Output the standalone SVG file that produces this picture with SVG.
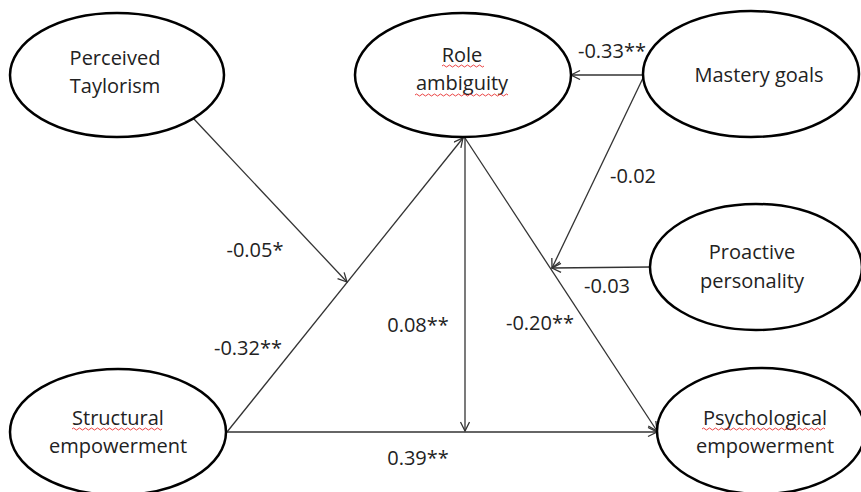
<svg xmlns="http://www.w3.org/2000/svg" width="861" height="492" viewBox="0 0 861 492">
<defs>
<style>
.node ellipse{fill:#fff;stroke:#000;stroke-width:2.5}
.node text,.lbl{font-family:"Open Sans","Liberation Sans",sans-serif;font-size:20px;fill:#222;text-anchor:middle}
.conn line{stroke:#333;stroke-width:1.3;fill:none}
.sq{stroke:#e83030;stroke-width:0.9;fill:none}
</style>
<marker id="arr" markerUnits="userSpaceOnUse" markerWidth="12" markerHeight="12" viewBox="0 0 12 12" refX="10" refY="5" orient="auto">
<path d="M1,0.5 L10,5 L1,9.5" fill="none" stroke="#333" stroke-width="1.3"/>
</marker>
</defs>
<rect width="861" height="492" fill="#fff"/>
<g id="connectors" class="conn">
<line x1="193" y1="118" x2="347" y2="282" marker-end="url(#arr)"/>
<line x1="227" y1="432" x2="463" y2="138" marker-end="url(#arr)"/>
<line x1="465" y1="138" x2="465" y2="431" marker-end="url(#arr)"/>
<line x1="465" y1="138" x2="657" y2="431" marker-end="url(#arr)"/>
<line x1="227" y1="432" x2="657" y2="432" marker-end="url(#arr)"/>
<line x1="643" y1="75" x2="571" y2="75" marker-end="url(#arr)"/>
<line x1="643" y1="78" x2="552" y2="268" marker-end="url(#arr)"/>
<line x1="650" y1="267" x2="552" y2="268" marker-end="url(#arr)"/>
</g>
<g id="perceived-taylorism" class="node">
<ellipse cx="117" cy="75" rx="107" ry="62"/>
<text x="115" y="65">Perceived</text>
<text x="115" y="93">Taylorism</text>
</g>
<g id="role-ambiguity" class="node">
<ellipse cx="463" cy="75" rx="108" ry="62"/>
<text x="462" y="62">Role</text>
<text x="462" y="90">ambiguity</text>
<path class="sq" d="M442,66 q1.5,-2 3,0 t3,0 t3,0 t3,0 t3,0 t3,0 t3,0 t3,0 t3,0 t3,0 t3,0 t3,0 t3,0 t3,0"/>
<path class="sq" d="M415,95 q1.5,-2 3,0 t3,0 t3,0 t3,0 t3,0 t3,0 t3,0 t3,0 t3,0 t3,0 t3,0 t3,0 t3,0 t3,0 t3,0 t3,0 t3,0 t3,0 t3,0 t3,0 t3,0 t3,0 t3,0 t3,0 t3,0 t3,0 t3,0 t3,0 t3,0 t3,0 t3,0"/>
</g>
<g id="mastery-goals" class="node">
<ellipse cx="751" cy="74" rx="108" ry="63"/>
<text x="759" y="82">Mastery goals</text>
</g>
<g id="proactive-personality" class="node">
<ellipse cx="756" cy="267" rx="106" ry="63"/>
<text x="752" y="259">Proactive</text>
<text x="752" y="288">personality</text>
</g>
<g id="structural-empowerment" class="node">
<ellipse cx="118" cy="432" rx="108" ry="63"/>
<text x="118" y="425">Structural</text>
<text x="118" y="453">empowerment</text>
<path class="sq" d="M72,429 q1.5,-2 3,0 t3,0 t3,0 t3,0 t3,0 t3,0 t3,0 t3,0 t3,0 t3,0 t3,0 t3,0 t3,0 t3,0 t3,0 t3,0 t3,0 t3,0 t3,0 t3,0 t3,0 t3,0 t3,0 t3,0 t3,0 t3,0 t3,0 t3,0 t3,0 t3,0"/>
</g>
<g id="psychological-empowerment" class="node">
<ellipse cx="761" cy="431" rx="104" ry="63"/>
<text x="765" y="425">Psychological</text>
<text x="765" y="453">empowerment</text>
<path class="sq" d="M702,429 q1.5,-2 3,0 t3,0 t3,0 t3,0 t3,0 t3,0 t3,0 t3,0 t3,0 t3,0 t3,0 t3,0 t3,0 t3,0 t3,0 t3,0 t3,0 t3,0 t3,0 t3,0 t3,0 t3,0 t3,0 t3,0 t3,0 t3,0 t3,0 t3,0 t3,0 t3,0 t3,0 t3,0 t3,0 t3,0 t3,0 t3,0 t3,0 t3,0 t3,0 t3,0 t3,0"/>
</g>
<g id="labels">
<text class="lbl" x="612" y="58">-0.33**</text>
<text class="lbl" x="633" y="183">-0.02</text>
<text class="lbl" x="607" y="293">-0.03</text>
<text class="lbl" x="255" y="257">-0.05*</text>
<text class="lbl" x="248" y="355">-0.32**</text>
<text class="lbl" x="418" y="332">0.08**</text>
<text class="lbl" x="540" y="330">-0.20**</text>
<text class="lbl" x="418" y="465">0.39**</text>
</g>
</svg>
